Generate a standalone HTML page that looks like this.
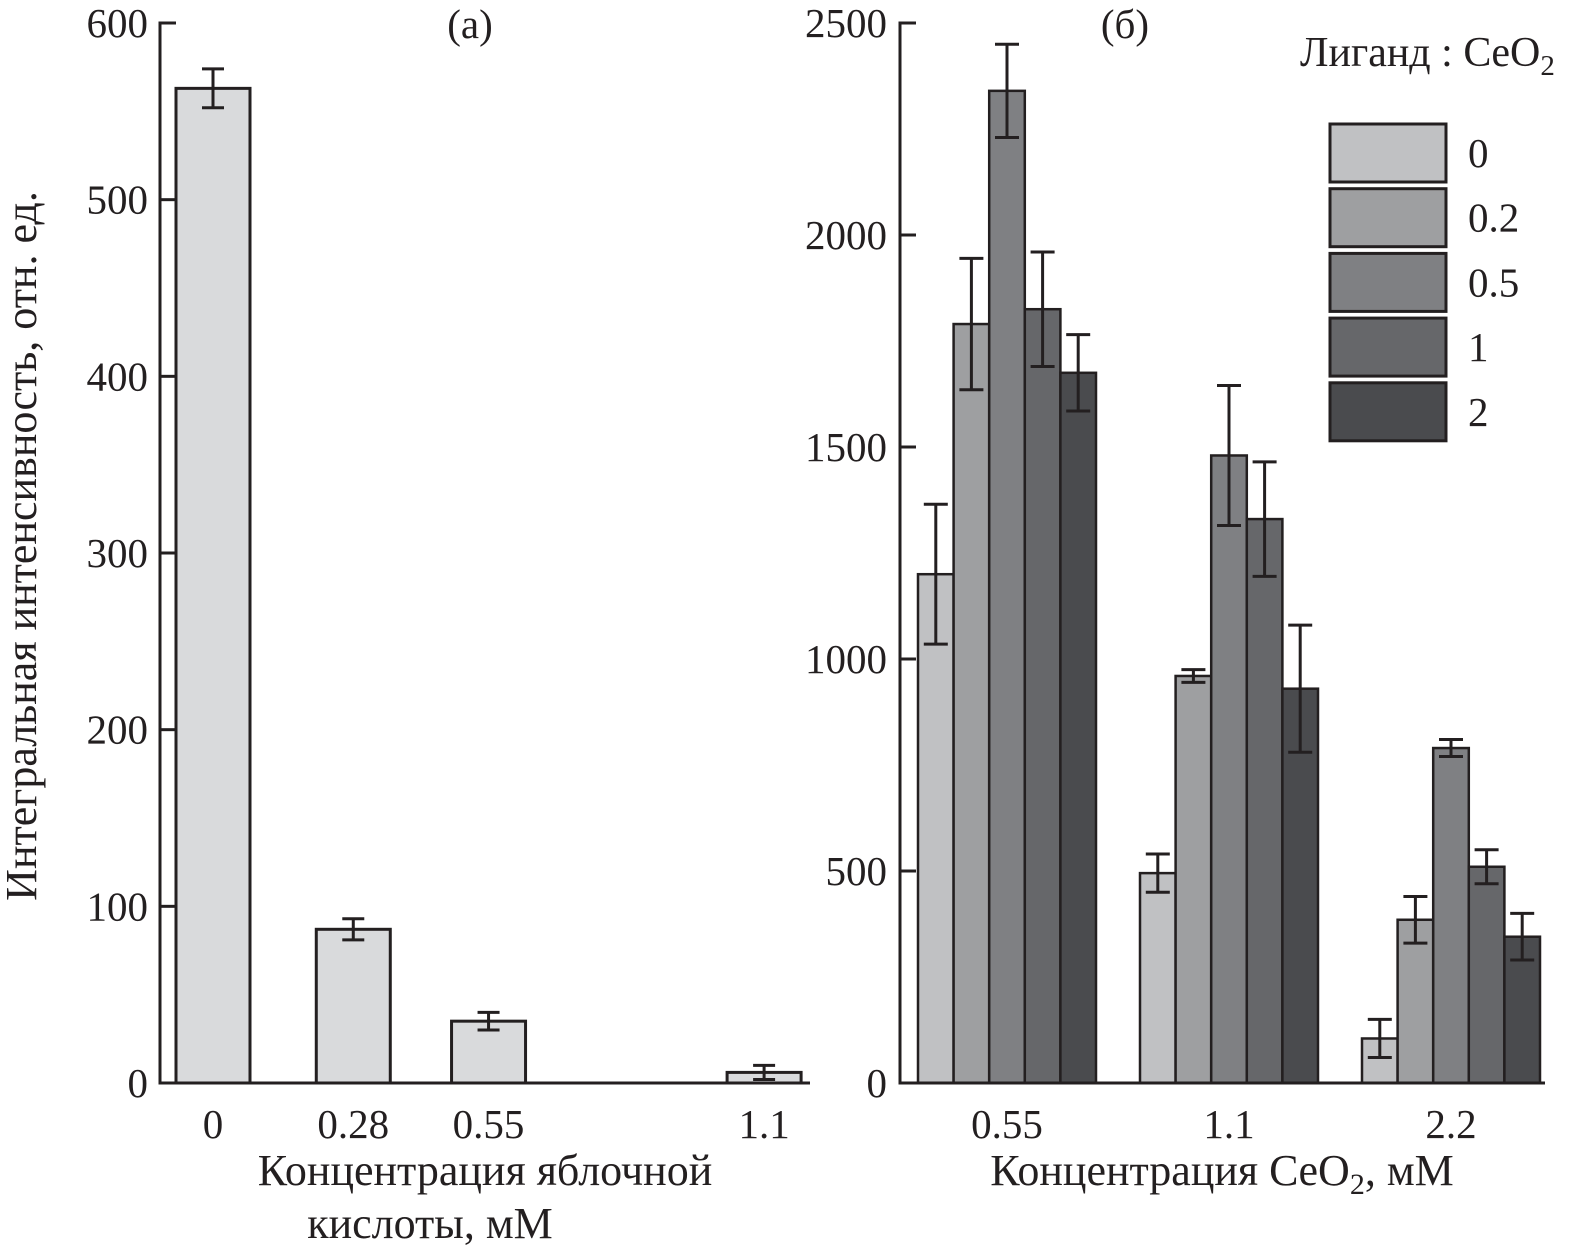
<!DOCTYPE html>
<html><head><meta charset="utf-8"><style>
body{margin:0;background:#fff}
svg text{font-family:"Liberation Serif",serif;fill:#231f20}
</style></head><body>
<svg id="c" width="1573" height="1253" xmlns="http://www.w3.org/2000/svg"></svg>
<script>
const catsA=[0,0.28,0.55,1.1];
const valsA=[563,87,35,6];
const errA=[11,6,5,4];
const ticksA=[0,100,200,300,400,500,600];
const groupsB=["0.55","1.1","2.2"];
const seriesB=["0","0.2","0.5","1","2"];
const valsB=[[1200,1790,2340,1825,1675],[495,960,1480,1330,930],[105,385,790,510,345]];
const errB=[[165,155,110,135,90],[45,15,165,135,150],[45,55,20,40,55]];
const ticksB=[0,500,1000,1500,2000,2500];
const colors=["#c0c1c3","#9e9fa1","#7f8083","#66676a","#4a4b4e"];
const svg=document.getElementById('c');
const NS='http://www.w3.org/2000/svg';
function el(t,a,txt){const e=document.createElementNS(NS,t);for(const k in a)e.setAttribute(k,a[k]);if(txt!==undefined)e.textContent=txt;svg.appendChild(e);return e;}
const y0=1083,yTop=23;
const yA=v=>y0-(v/600)*(y0-yTop);
const xA=v=>213+v*501;
const yB=v=>y0-(v/2500)*(y0-yTop);
const FS=41;
// panel a
for(let i=0;i<catsA.length;i++){
 const cx=xA(catsA[i]);
 const r=el('rect',{x:cx-37,y:yA(valsA[i]),width:74,height:y0-yA(valsA[i]),fill:'#d9dadc',stroke:'#231f20','stroke-width':3});
 
 const t=yA(valsA[i]+errA[i]),b=yA(valsA[i]-errA[i]);
 const g=el('path',{d:`M${cx},${t}V${b}M${cx-11},${t}H${cx+11}M${cx-11},${b}H${cx+11}`,stroke:'#231f20','stroke-width':3,fill:'none'});
 
 const l=el('text',{x:cx,y:1138,'font-size':FS,'text-anchor':'middle'},String(catsA[i]));
 
}
el('path',{d:`M176,${yTop}H160V${y0}H810`,stroke:'#231f20','stroke-width':3,fill:'none'});
for(const t of ticksA){
 el('line',{x1:160,x2:176,y1:yA(t),y2:yA(t),stroke:'#231f20','stroke-width':3});
 const l=el('text',{x:148,y:yA(t)+14,'font-size':FS,'text-anchor':'end'},String(t));
 
}
el('text',{x:470,y:38,'font-size':FS,'text-anchor':'middle',},'(а)');
el('text',{x:485,y:1185,'font-size':44,'text-anchor':'middle',},'Концентрация яблочной');
el('text',{x:430,y:1238,'font-size':44,'text-anchor':'middle',},'кислоты, мМ');
el('text',{x:0,y:0,'font-size':44,'text-anchor':'middle',transform:'translate(36,546) rotate(-90)',},'Интегральная интенсивность, отн. ед.');
// panel b
const gc=[1007,1229,1451],bw=35.6;
for(let g=0;g<groupsB.length;g++){
 for(let s=0;s<seriesB.length;s++){
  const x=gc[g]-bw*2.5+s*bw,v=valsB[g][s];
  const r=el('rect',{x:x,y:yB(v),width:bw,height:y0-yB(v),fill:colors[s],stroke:'#231f20','stroke-width':2.5});
  
  const cx=x+bw/2,t=yB(v+errB[g][s]),b=yB(v-errB[g][s]);
  const e=el('path',{d:`M${cx},${t}V${b}M${cx-12},${t}H${cx+12}M${cx-12},${b}H${cx+12}`,stroke:'#231f20','stroke-width':3,fill:'none'});
  
 }
 const l=el('text',{x:gc[g],y:1138,'font-size':FS,'text-anchor':'middle'},groupsB[g]);
 
}
el('path',{d:`M916,${yTop}H900V${y0}H1545`,stroke:'#231f20','stroke-width':3,fill:'none'});
for(const t of ticksB){
 el('line',{x1:900,x2:916,y1:yB(t),y2:yB(t),stroke:'#231f20','stroke-width':3});
 const l=el('text',{x:887,y:yB(t)+14,'font-size':FS,'text-anchor':'end'},String(t));
 
}
el('text',{x:1125,y:38,'font-size':FS,'text-anchor':'middle',},'(б)');
const xt=el('text',{x:1222,y:1185,'font-size':44,'text-anchor':'middle',});
xt.innerHTML='Концентрация CeO<tspan font-size="30" dy="9">2</tspan><tspan dy="-9">, мМ</tspan>';
const lt=el('text',{x:1300,y:66,'font-size':42,});
lt.innerHTML='Лиганд : CeO<tspan font-size="29" dy="9">2</tspan>';
for(let s=0;s<seriesB.length;s++){
 const y=124+s*64.7;
 const r=el('rect',{x:1330,y:y,width:116,height:58,fill:colors[s],stroke:'#231f20','stroke-width':3});
 
 const l=el('text',{x:1468,y:y+43,'font-size':FS},seriesB[s]);
 
}
</script>
</body></html>
